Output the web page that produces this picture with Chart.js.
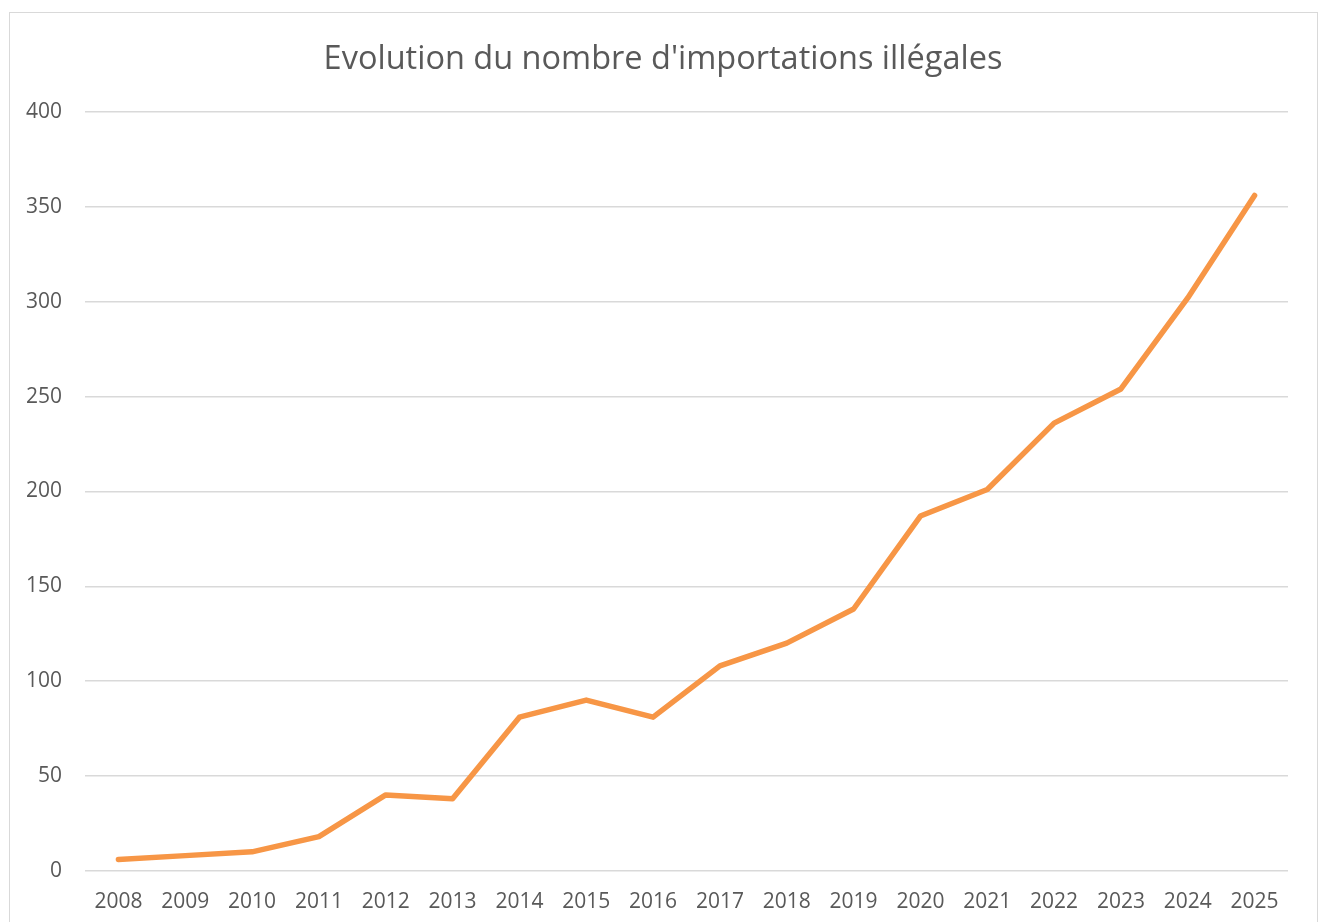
<!DOCTYPE html>
<html>
<head>
<meta charset="utf-8">
<script src="https://cdn.jsdelivr.net/npm/chart.js@4"></script>
<style>
  html, body { margin: 0; padding: 0; background: #fff; }
  #wrap { position: relative; width: 1319px; height: 922px; overflow: hidden; }
  #frame { position: absolute; left: 9px; top: 12px; width: 1307px; height: 960px; border: 1px solid #d9d9d9; }
  #myChart1 { position: absolute; left: 0; top: 0; }
</style>
</head>
<body>
<div id="wrap">
  <div id="frame"></div>
  <canvas id="myChart1" width="1319" height="942"></canvas>
</div>
<script>
  const years = ['2008', '2009', '2010', '2011', '2012', '2013', '2014', '2015', '2016',
    '2017', '2018', '2019', '2020', '2021', '2022', '2023', '2024', '2025'];
  const imports = [6, 8, 10, 18, 40, 38, 81, 90, 81, 108, 120, 138, 187, 201, 236, 254, 302, 356];
  const chartTitle = "Evolution du nombre d'importations illégales";

  const data1 = {
    labels: years,
    datasets: [{
      label: 'Importations illégales',
      data: imports,
      borderColor: '#f79646',
      borderWidth: 5.5,
      borderCapStyle: 'round',
      borderJoinStyle: 'round',
      pointRadius: 0,
      tension: 0,
      fill: false
    }]
  };

  // centre the title on the frame instead of the padded box
  const titleShift = {
    id: 'titleShift',
    afterLayout(chart) {
      if (chart.titleBlock) {
        chart.titleBlock.left = 38;
        chart.titleBlock.right = 1288;
      }
    }
  };

  const config1 = {
    type: 'line',
    data: data1,
    plugins: [titleShift],
    options: {
      responsive: false,
      animation: false,
      layout: {
        padding: { left: 0, right: 31, top: 0, bottom: 8 }
      },
      plugins: {
        legend: { display: false },
        tooltip: { enabled: false },
        title: {
          display: true,
          text: chartTitle,
          color: '#595959',
          font: { family: 'Open Sans', size: 32.5, weight: 'normal' },
          padding: { top: 40, bottom: 33 }
        }
      },
      scales: {
        x: {
          offset: true,
          grid: { display: false, drawTicks: false },
          border: { display: false },
          ticks: {
            color: '#595959',
            font: { family: 'Open Sans', size: 21 },
            padding: 19,
            maxRotation: 0,
            autoSkip: false
          }
        },
        y: {
          min: 0,
          max: 400,
          afterFit: function (scale) { scale.width = 85; },
          grid: { color: '#d9d9d9', lineWidth: 1.5, drawTicks: false },
          border: { display: false },
          ticks: {
            stepSize: 50,
            color: '#595959',
            font: { family: 'Open Sans', size: 21 },
            padding: 23
          }
        }
      }
    }
  };

  const myChart = new Chart(
    document.getElementById('myChart1'),
    config1
  );
</script>
</body>
</html>
